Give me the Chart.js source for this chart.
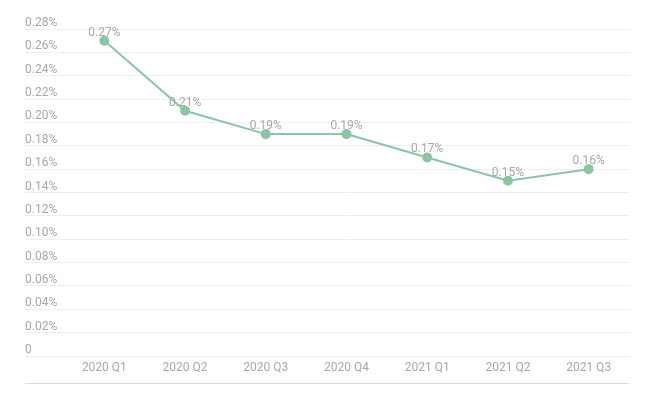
<!DOCTYPE html>
<html>
<head>
<meta charset="utf-8">
<script src="https://cdn.jsdelivr.net/npm/chart.js@4"></script>
<style>
  html, body { margin: 0; padding: 0; background: #fff; }
  #wrap { width: 654px; height: 397px; }
</style>
</head>
<body>
<div id="wrap"><canvas id="rateChart" width="654" height="397"></canvas></div>
<script>
// ---- Data ----
const quarters = ['2020 Q1', '2020 Q2', '2020 Q3', '2020 Q4', '2021 Q1', '2021 Q2', '2021 Q3'];
const rates = [0.27, 0.21, 0.19, 0.19, 0.17, 0.15, 0.16];
const yMax = 0.28;
const yStep = 0.02;

const lineColor = '#8cc4a4';
const textColor = '#a8a8a8';
const gridColor = '#eeeeee';

const fmt = v => (v === 0 ? '0' : v.toFixed(2) + '%');

// ---- Value labels above the points ----
const valueLabels = {
  id: 'valueLabels',
  afterDatasetsDraw(chart) {
    const ctx = chart.ctx;
    const meta = chart.getDatasetMeta(0);
    ctx.save();
    ctx.font = '12px Roboto';
    ctx.fillStyle = textColor;
    ctx.textAlign = 'center';
    ctx.textBaseline = 'middle';
    meta.data.forEach((pt, i) => {
      ctx.fillText(fmt(rates[i]), pt.x, pt.y - 8);
    });
    ctx.restore();
  }
};

// ---- Bottom rule under the category labels ----
const bottomRule = {
  id: 'bottomRule',
  afterDraw(chart) {
    const x = chart.scales.x, y = chart.scales.y;
    const ctx = chart.ctx;
    ctx.save();
    ctx.strokeStyle = '#dddddd';
    ctx.lineWidth = 1;
    ctx.beginPath();
    ctx.moveTo(y.left, Math.round(x.bottom) + 0.5);
    ctx.lineTo(x.right, Math.round(x.bottom) + 0.5);
    ctx.stroke();
    ctx.restore();
  }
};

new Chart(document.getElementById('rateChart'), {
  type: 'line',
  data: {
    labels: quarters,
    datasets: [{
      data: rates,
      borderColor: lineColor,
      backgroundColor: lineColor,
      pointBackgroundColor: lineColor,
      pointBorderColor: lineColor,
      borderWidth: 2,
      pointRadius: 4,
      tension: 0,
      fill: false,
    }]
  },
  options: {
    responsive: false,
    animation: false,
    layout: { padding: { top: 29, left: 25, right: 25, bottom: 14 } },
    plugins: {
      legend: { display: false },
      tooltip: { enabled: false },
    },
    scales: {
      x: {
        offset: true,
        grid: { display: false, drawTicks: false },
        border: { display: false },
        ticks: { color: textColor, font: { family: 'Roboto', size: 12 }, padding: 5, maxRotation: 0 },
        afterFit: s => { s.height = 27; },
      },
      y: {
        min: 0,
        max: yMax,
        grid: { color: gridColor, drawTicks: true, tickLength: 39 },
        border: { display: false },
        ticks: {
          stepSize: yStep,
          color: textColor,
          font: { family: 'Roboto', size: 12 },
          crossAlign: 'far',
          labelOffset: -6,
          padding: 0,
          callback: v => fmt(v),
        },
        afterFit: s => { s.width = 39; },
      }
    }
  },
  plugins: [valueLabels, bottomRule]
});
</script>
</body>
</html>
